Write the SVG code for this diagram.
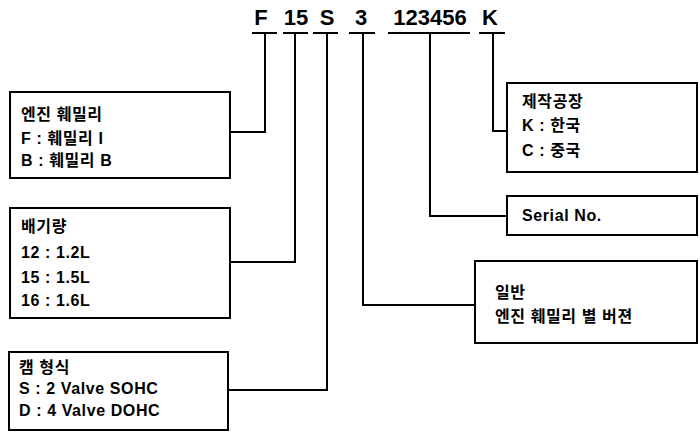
<svg xmlns="http://www.w3.org/2000/svg" width="699" height="432" viewBox="0 0 699 432">
<style>
.box{fill:#fff;stroke:#000;stroke-width:2}
.ln{fill:none;stroke:#000;stroke-width:2}
.t{font-family:"Liberation Sans","Noto Sans CJK KR",sans-serif;font-weight:bold;font-size:16px;fill:#000;letter-spacing:0.6px}
.h{font-family:"Liberation Sans",sans-serif;font-weight:bold;font-size:22px;fill:#000;text-anchor:middle}
</style>
<rect width="699" height="432" fill="#fff"/>
<g id="code">
<text class="h" x="261" y="25">F</text>
<text class="h" x="296" y="25">15</text>
<text class="h" x="327" y="25">S</text>
<text class="h" x="361" y="25">3</text>
<text class="h" x="430" y="25">123456</text>
<text class="h" x="490" y="25">K</text>
</g>
<g id="connectors">
<path class="ln" d="M252 33H277M283 33H308M313 33H338M349 33H375M388 33H470M479 33H505"/>
<path class="ln" d="M265 33V132H230"/>
<path class="ln" d="M295 33V262H230"/>
<path class="ln" d="M327 33V390H228"/>
<path class="ln" d="M363 33V305H475"/>
<path class="ln" d="M430 33V216H507"/>
<path class="ln" d="M493 33V131H507"/>
</g>
<g id="family">
<rect class="box" x="10" y="92" width="220" height="86"/>
<text class="t" x="21" y="120">엔진 훼밀리</text>
<text class="t" x="21" y="144">F : 훼밀리 I</text>
<text class="t" x="21" y="166">B : 훼밀리 B</text>
</g>
<g id="displacement">
<rect class="box" x="10" y="208" width="220" height="110"/>
<text class="t" x="21" y="232">배기량</text>
<text class="t" x="21" y="258">12 : 1.2L</text>
<text class="t" x="21" y="283">15 : 1.5L</text>
<text class="t" x="21" y="306">16 : 1.6L</text>
</g>
<g id="cam">
<rect class="box" x="9" y="352" width="219" height="78"/>
<text class="t" x="19" y="373">캠 형식</text>
<text class="t" x="19" y="394">S : 2 Valve SOHC</text>
<text class="t" x="19" y="416">D : 4 Valve DOHC</text>
</g>
<g id="plant">
<rect class="box" x="507" y="83" width="190" height="89"/>
<text class="t" x="522" y="107">제작공장</text>
<text class="t" x="522" y="131">K : 한국</text>
<text class="t" x="522" y="156">C : 중국</text>
</g>
<g id="serial">
<rect class="box" x="507" y="196" width="190" height="39"/>
<text class="t" x="522" y="221">Serial No.</text>
</g>
<g id="version">
<rect class="box" x="475" y="261" width="222" height="82"/>
<text class="t" x="495" y="298">일반</text>
<text class="t" x="495" y="322">엔진 훼밀리 별 버젼</text>
</g>
</svg>
